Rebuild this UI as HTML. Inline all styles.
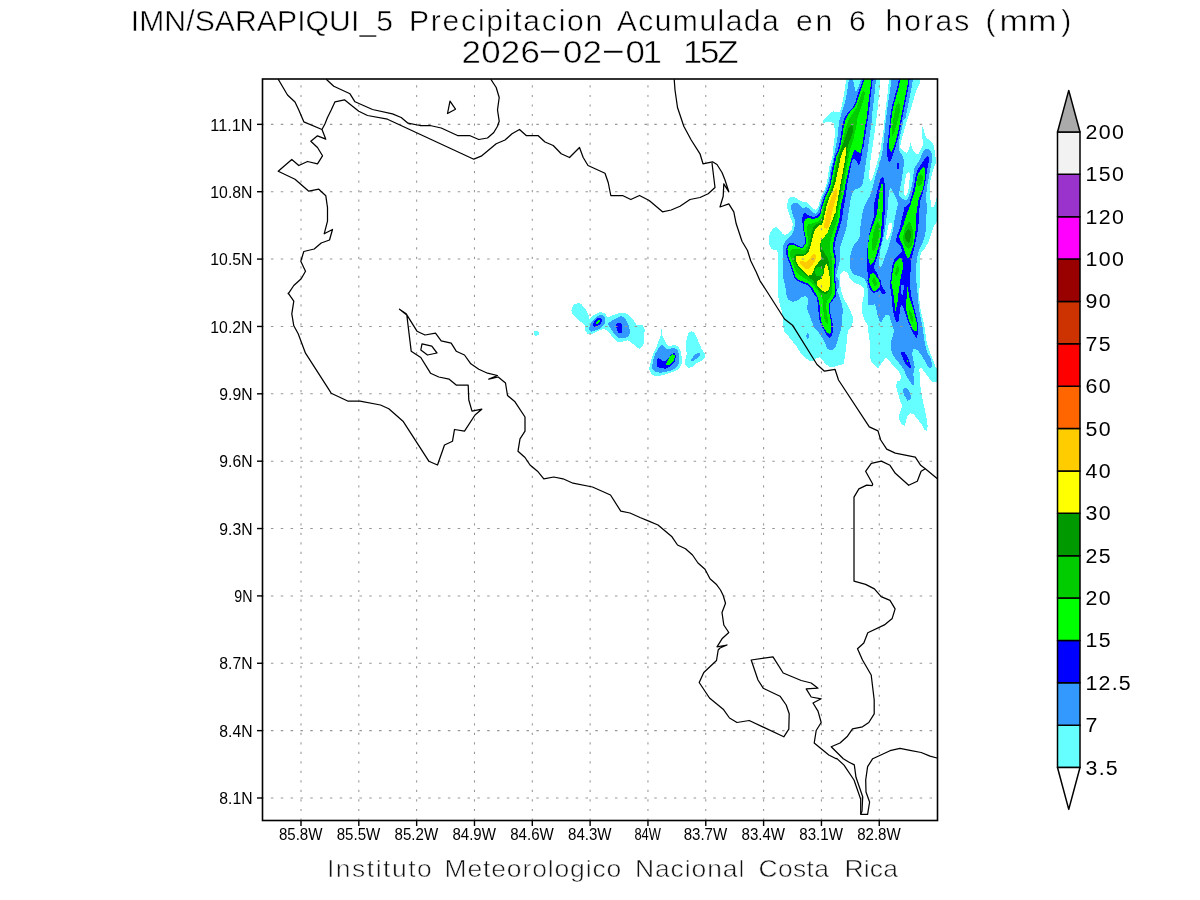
<!DOCTYPE html>
<html lang="es"><head><meta charset="utf-8"><title>IMN/SARAPIQUI_5 Precipitacion Acumulada en 6 horas (mm)</title>
<style>html,body{margin:0;padding:0;background:#fff}svg{display:block}text{font-family:"Liberation Sans",sans-serif;fill:#000}</style>
</head><body>
<svg width="1200" height="900" viewBox="0 0 1200 900">
<rect width="1200" height="900" fill="#fff"/>
<defs><clipPath id="fc"><rect x="262.5" y="79" width="675" height="741.5"/></clipPath></defs>
<g clip-path="url(#fc)" shape-rendering="crispEdges">
<polygon fill="#66ffff" points="846.5,79.0 845.0,87.0 844.0,95.0 842.0,105.0 840.0,111.5 837.0,112.2 833.0,111.2 830.0,113.5 826.5,117.0 823.2,120.5 823.2,123.0 826.5,122.0 830.0,121.5 833.5,123.0 834.5,128.0 834.8,135.0 834.0,143.0 832.5,151.0 832.5,156.0 831.0,162.0 829.0,168.0 828.0,176.0 826.5,184.0 824.5,190.0 822.0,195.0 820.0,200.0 818.5,206.0 816.0,210.0 813.5,209.0 810.0,205.5 807.0,202.5 803.0,202.0 799.0,200.0 795.0,197.5 791.0,197.0 788.5,199.0 787.2,204.0 787.5,209.0 789.0,214.0 791.0,219.0 793.0,224.0 792.0,229.0 789.0,233.0 785.5,235.0 782.5,234.0 780.0,230.0 776.5,227.0 773.5,228.0 770.5,232.0 769.0,236.0 769.0,238.0 769.2,244.0 771.0,248.5 774.0,250.0 777.0,250.5 778.5,255.0 778.2,263.0 778.0,271.0 777.5,279.0 778.0,287.0 778.5,290.0 778.2,296.0 779.5,303.0 781.5,310.0 783.0,318.0 783.0,326.0 784.5,332.0 789.0,337.0 793.0,342.0 797.0,347.0 800.0,352.0 804.0,357.0 809.0,360.5 814.0,361.0 816.5,358.0 820.0,357.2 822.5,360.0 826.0,364.5 830.0,367.0 835.0,366.5 840.0,365.0 843.5,364.0 844.5,359.0 845.5,352.0 846.5,344.0 847.0,336.0 848.5,330.0 851.0,327.0 852.8,322.0 852.5,316.0 850.0,310.0 847.5,305.0 844.5,300.0 842.0,294.0 840.5,287.0 839.5,280.0 840.5,274.0 844.0,271.0 847.5,273.0 850.0,279.0 854.0,283.0 860.0,285.0 863.5,288.0 864.0,294.0 863.0,300.0 862.0,305.0 862.0,307.0 862.5,314.0 864.5,320.0 867.5,325.0 868.5,333.0 869.5,340.0 870.0,348.0 870.0,357.0 872.0,363.0 876.0,367.0 878.5,368.0 882.7,361.7 886.0,357.0 888.7,360.3 893.3,365.7 898.7,371.0 901.3,376.3 900.0,380.3 896.7,381.7 896.3,387.0 898.0,393.7 900.0,400.3 902.0,405.7 900.7,410.7 899.3,414.7 899.3,420.0 901.3,424.0 904.7,425.6 906.0,421.3 907.3,416.0 910.0,413.3 913.3,414.0 917.3,418.7 921.3,424.0 924.7,430.0 926.7,430.7 927.7,426.7 926.7,418.7 924.7,409.3 922.7,400.0 921.3,392.0 920.0,384.0 920.0,376.3 919.3,369.7 921.3,367.7 926.7,375.0 932.0,381.7 938.0,381.7 938.0,370.3 935.5,367.0 933.5,361.0 931.0,355.0 928.5,348.0 926.5,341.0 925.5,334.0 924.5,327.0 923.0,320.0 921.0,312.0 919.8,304.0 919.0,296.0 919.5,288.0 920.0,280.0 919.5,280.0 920.5,272.0 920.0,265.0 919.5,258.0 921.0,253.0 925.0,248.0 928.5,242.0 931.0,234.0 934.0,226.0 938.0,220.0 938.0,197.5 936.7,197.7 935.7,201.7 934.0,206.7 931.3,206.7 930.7,201.7 930.0,195.0 929.7,188.3 930.0,181.7 931.3,176.3 933.0,170.3 934.3,167.0 935.7,163.0 935.7,159.0 935.3,155.0 935.0,152.0 933.5,145.0 931.0,141.0 927.0,138.5 925.0,135.0 924.0,130.0 922.5,127.0 921.5,131.0 922.0,136.0 923.0,142.0 922.5,146.0 920.5,150.0 918.0,154.5 915.0,153.0 912.0,148.0 910.5,142.5 909.0,149.0 907.0,153.0 903.0,151.0 900.0,148.0 901.5,140.0 903.5,133.0 905.5,126.0 907.0,120.0 909.0,115.0 911.5,107.0 914.0,98.0 916.5,90.0 920.0,83.5 920.5,79.0"/>
<polygon fill="#66ffff" points="571.3,311.0 573.3,305.0 578.0,303.0 581.3,304.1 586.0,309.7 588.7,315.0 589.1,319.0 594.0,315.0 600.0,312.1 604.7,313.0 608.0,317.7 613.3,315.0 619.3,313.0 625.3,313.0 629.3,315.7 634.0,321.0 636.7,325.0 642.7,325.4 644.7,329.7 644.0,339.0 643.3,345.7 640.0,348.7 636.7,347.7 632.7,343.7 628.0,340.3 622.7,341.7 617.3,341.9 614.0,339.0 610.0,333.7 606.0,329.9 602.7,329.0 596.7,331.7 592.0,334.3 588.0,334.3 585.3,331.0 585.3,326.3 581.3,322.3 576.0,317.7 572.7,314.3"/>
<polygon fill="#66ffff" points="661.6,328.1 662.0,335.0 665.3,341.7 668.0,346.3 674.7,345.0 678.7,347.0 681.3,352.3 682.0,363.0 678.7,369.0 672.0,372.3 664.0,375.0 655.3,376.3 651.3,374.3 649.1,369.0 650.7,361.7 653.3,353.7 656.7,346.3 659.3,339.0 661.1,335.0"/>
<polygon fill="#66ffff" points="691.3,331.0 694.0,332.3 697.3,339.0 701.3,348.3 704.7,353.7 704.7,357.7 701.3,361.0 696.0,363.7 692.0,367.0 688.7,367.7 685.3,365.0 685.3,360.3 686.7,353.7 686.0,345.7 686.7,337.7 688.7,333.0"/>
<polygon fill="#66ffff" points="534.5,331.0 537.5,330.5 538.8,332.0 538.5,335.0 536.0,336.0 534.0,335.0"/>
<polygon fill="#ffffff" points="880.0,79.0 879.5,90.0 878.5,100.0 877.5,110.0 876.2,120.0 875.0,130.0 873.5,140.0 872.0,150.0 870.5,160.0 869.5,170.0 869.2,178.0 870.5,181.2 871.2,180.8 872.5,178.0 874.5,172.0 876.5,165.0 878.5,158.0 880.5,150.0 882.0,140.0 883.5,130.0 884.5,120.0 885.5,110.0 886.8,100.0 888.0,90.0 889.0,79.0"/>
<polygon fill="#ffffff" points="909.0,171.0 910.0,174.0 909.5,180.0 909.0,186.0 908.0,192.0 907.0,195.0 905.5,195.5 903.5,194.0 904.0,188.0 905.0,180.0 906.5,174.0"/>
<polygon fill="#3399ff" points="849.0,79.0 847.8,87.0 846.5,95.0 845.0,103.0 843.0,109.0 841.0,115.0 839.5,120.0 838.5,127.0 837.8,135.0 836.5,143.0 835.0,151.0 834.0,156.0 832.5,163.0 830.5,170.0 829.5,177.0 828.0,184.0 826.0,190.0 823.5,195.0 821.5,200.0 820.0,206.0 818.0,211.0 815.5,214.0 812.0,212.0 809.0,208.5 806.0,207.0 803.0,208.0 800.0,206.0 797.0,203.0 794.0,202.5 791.5,204.5 791.2,209.0 792.5,214.0 794.5,219.0 795.0,225.0 794.0,230.0 792.0,234.0 789.0,237.5 785.5,241.0 783.5,245.0 782.5,250.0 782.8,257.0 783.0,265.0 782.5,273.0 783.5,279.0 785.0,285.0 786.0,291.0 786.5,295.0 788.5,300.0 793.0,302.0 798.0,300.0 802.0,297.0 805.0,296.0 808.0,299.0 808.0,303.0 807.0,308.0 809.0,314.0 811.5,321.0 814.5,328.0 819.0,333.0 823.0,339.0 825.5,344.0 827.0,348.5 830.0,350.5 833.0,349.5 836.0,346.0 838.0,339.0 840.0,333.0 841.5,326.0 842.0,318.0 843.0,310.0 841.5,303.0 839.5,297.0 838.0,293.0 836.5,290.0 839.0,288.0 838.5,280.0 836.0,276.0 837.0,272.0 838.5,266.0 840.0,260.0 839.5,254.0 840.5,246.0 843.0,238.0 846.0,230.0 847.5,220.0 849.0,210.0 850.5,200.0 852.0,194.0 854.0,190.0 856.5,189.0 860.0,188.0 862.5,184.0 864.0,176.0 865.0,168.0 866.2,160.0 867.8,150.0 869.0,140.0 870.5,130.0 872.0,120.0 871.8,117.0 873.0,107.0 874.2,97.0 875.2,87.0 876.0,79.0"/>
<polygon fill="#3399ff" points="891.5,79.0 890.5,87.0 889.0,97.0 887.5,107.0 886.2,117.0 884.8,130.0 883.8,140.0 882.8,150.0 881.0,158.0 879.0,165.0 877.0,172.0 875.0,178.0 873.5,184.0 872.0,190.0 870.0,196.0 867.0,201.0 864.5,206.0 864.5,206.0 862.5,213.0 861.0,222.0 860.0,230.0 860.5,235.0 858.0,240.0 854.5,244.0 852.0,249.0 850.5,255.0 849.5,262.0 850.0,268.0 852.5,273.0 855.0,275.0 860.0,276.5 864.5,279.0 866.5,283.0 868.0,290.0 868.0,293.0 867.5,300.0 868.5,305.0 872.0,305.5 875.0,303.5 876.2,309.0 877.5,315.0 879.5,321.0 881.5,322.5 883.5,318.0 886.0,314.5 889.0,314.5 890.5,320.0 892.5,326.0 894.0,331.0 892.5,337.0 890.5,343.0 891.0,349.0 892.5,354.0 895.5,359.0 899.0,363.0 902.0,367.0 904.0,370.0 906.7,376.3 910.0,381.7 913.3,386.3 914.0,380.3 913.3,373.7 914.7,367.0 913.3,360.3 912.0,353.7 913.3,349.0 917.3,349.7 921.3,355.0 925.3,361.7 928.7,367.7 931.3,368.3 932.0,364.3 930.0,356.3 928.0,355.0 926.0,348.0 924.5,341.0 923.5,334.0 922.5,327.0 921.0,320.0 919.5,312.0 918.5,304.0 917.8,296.0 917.0,288.0 916.2,280.0 916.5,282.0 915.8,274.0 916.2,266.0 917.0,259.0 918.0,253.0 920.0,248.0 922.5,243.0 924.5,237.0 925.8,230.0 926.0,222.0 926.5,214.0 927.0,206.0 926.0,200.0 926.5,192.0 927.5,184.0 929.0,176.0 930.5,168.0 932.0,160.0 931.8,154.0 930.0,150.0 927.0,148.5 924.0,150.0 922.0,154.0 919.5,160.0 917.0,164.0 914.5,168.0 913.5,174.0 912.5,182.0 911.0,190.0 909.0,196.0 908.0,199.0 905.0,200.0 902.0,199.0 900.0,197.0 899.0,194.0 900.0,188.0 901.5,181.0 902.5,174.0 903.5,167.0 904.0,160.0 902.0,155.0 899.0,150.0 898.5,144.0 900.0,136.0 902.0,128.0 903.5,120.0 905.5,118.0 907.5,108.0 909.5,98.0 911.5,88.0 913.0,79.0"/>
<polygon fill="#3399ff" points="807.5,332.6 809.4,335.5 807.9,339.2 805.8,336.2"/>
<polygon fill="#3399ff" points="903.3,388.7 906.0,388.0 909.3,391.3 910.9,396.0 910.4,400.0 907.3,400.7 904.7,396.0 902.9,392.0"/>
<polygon fill="#3399ff" points="589.3,327.0 592.0,321.0 597.3,316.3 602.0,314.3 605.3,317.7 605.3,323.0 601.3,327.7 596.0,330.3 591.3,331.7 589.3,329.7"/>
<polygon fill="#3399ff" points="607.3,323.7 613.3,319.7 620.7,316.1 625.3,318.3 628.7,325.0 630.0,331.0 629.3,335.7 624.0,338.3 618.7,337.7 614.0,333.7 610.7,328.3"/>
<polygon fill="#3399ff" points="662.0,345.0 666.7,349.7 673.3,347.7 677.3,349.7 679.3,355.0 679.3,363.0 676.0,368.3 669.3,371.0 661.3,372.6 655.3,372.3 652.0,369.0 652.7,361.7 655.3,353.7 658.7,347.7"/>
<polygon fill="#3399ff" points="690.0,360.3 696.0,353.7 699.7,353.0 699.7,355.7 696.0,359.0 692.7,361.0"/>
<polygon fill="#66ffff" points="853.0,79.0 861.0,79.0 858.5,87.0 856.0,92.5 854.5,87.0"/>
<polygon fill="#66ffff" points="890.0,188.0 889.5,190.0 889.0,196.0 887.5,200.0 888.0,206.0 887.0,214.0 886.0,222.0 884.8,230.0 883.5,237.0 882.0,243.0 880.5,249.0 879.5,256.0 879.0,262.0 879.5,266.0 881.0,267.0 882.0,265.0 883.5,261.0 886.0,254.0 888.5,247.0 890.5,240.0 892.5,232.0 894.0,224.0 895.0,217.0 896.5,210.0 898.0,204.0 897.2,200.0 895.0,196.0 892.0,190.0"/>
<polygon fill="#ffffff" points="890.0,222.2 892.0,223.5 891.8,228.0 890.5,233.0 889.0,237.5 887.5,240.0 886.2,238.5 886.5,235.0 887.5,230.0 888.5,225.0"/>
<polygon fill="#0000ff" points="863.2,79.0 860.0,88.0 857.5,95.0 855.5,102.0 853.0,107.0 849.0,111.0 845.5,116.0 843.5,121.0 842.0,127.0 841.0,135.0 839.5,143.0 837.5,151.0 835.0,156.0 833.5,163.0 831.8,170.0 830.8,177.0 829.5,184.0 827.5,190.0 825.0,195.0 823.0,200.0 821.2,206.0 820.0,212.0 817.5,215.5 813.0,217.0 808.0,215.0 805.0,213.0 802.8,215.0 802.0,220.0 803.0,225.0 803.5,231.0 804.8,237.0 804.5,244.0 802.0,247.5 798.0,245.5 794.0,243.5 790.0,243.0 787.2,245.0 786.2,249.0 786.5,255.0 788.5,261.0 791.0,267.0 792.5,272.0 794.0,277.0 797.5,281.0 802.0,283.0 807.0,285.0 811.0,289.0 814.0,294.0 817.0,298.0 818.0,305.0 818.5,312.0 819.5,320.0 821.5,326.0 824.5,331.0 827.0,335.5 829.5,337.5 831.5,336.0 833.0,332.0 833.0,326.0 832.0,320.0 830.5,314.0 829.5,308.0 830.5,303.0 833.0,300.0 835.5,297.0 836.0,293.0 835.5,290.0 836.8,291.0 835.8,283.0 834.8,275.0 835.5,268.0 836.5,261.0 835.5,255.0 834.2,249.0 835.2,242.0 837.0,235.0 839.5,228.0 841.5,221.0 842.5,215.0 842.6,213.0 844.0,206.0 845.0,200.0 846.0,194.0 847.0,187.0 848.0,180.0 849.5,173.0 851.0,166.0 852.0,160.0 854.0,158.0 856.5,161.0 858.5,165.0 860.0,163.0 861.5,156.0 862.0,150.0 863.5,147.0 865.0,137.0 866.5,127.0 868.2,117.0 869.5,107.0 870.5,97.0 871.8,87.0 872.7,79.0"/>
<polygon fill="#0000ff" points="899.0,79.0 897.0,88.0 894.5,97.0 892.0,106.0 890.5,115.0 889.5,125.0 888.5,135.0 887.2,145.0 887.0,153.0 887.8,160.0 889.0,162.0 890.5,161.0 893.0,155.0 895.5,147.0 898.0,138.0 900.3,128.0 902.3,118.0 904.3,108.0 906.3,98.0 908.3,88.0 909.7,79.0"/>
<polygon fill="#0000ff" points="897.2,163.2 899.0,162.8 899.2,167.0 898.5,169.0 897.2,168.8"/>
<polygon fill="#0000ff" points="882.0,177.0 880.0,180.0 878.0,188.0 876.0,196.0 874.0,204.0 874.0,206.0 874.5,214.0 873.0,220.0 871.0,226.0 869.5,233.0 868.5,240.0 867.5,248.0 867.0,256.0 866.8,264.0 867.5,272.0 868.5,280.0 867.2,280.0 868.5,285.0 870.5,290.0 873.5,293.0 877.0,292.0 879.5,290.0 882.0,293.5 884.5,294.0 886.0,292.5 883.5,289.0 881.5,285.0 880.5,280.0 879.0,279.0 877.5,274.0 875.0,270.0 873.8,266.5 875.8,261.0 878.3,254.0 880.3,247.0 882.0,240.0 883.2,232.0 884.0,223.0 884.6,214.0 885.0,206.0 884.8,200.0 885.0,195.0 884.8,185.0 884.0,179.0"/>
<polygon fill="#0000ff" points="927.0,156.0 924.5,159.0 921.5,164.0 918.0,169.0 916.0,174.0 915.0,180.0 913.5,188.0 911.5,196.0 909.5,203.0 906.0,207.0 904.5,207.0 903.5,212.0 902.0,218.0 900.5,225.0 899.0,231.0 896.8,236.0 896.2,241.0 898.0,244.0 901.0,247.0 902.0,251.0 900.0,253.0 897.0,256.0 894.0,260.0 892.5,265.0 891.5,272.0 890.5,280.0 890.0,286.0 889.5,280.0 890.0,286.0 891.2,293.0 892.0,300.0 892.5,307.0 893.5,313.0 895.0,319.0 897.2,323.0 899.0,320.0 899.5,314.0 900.0,308.0 901.5,305.0 903.0,307.0 905.0,312.0 907.0,318.0 909.0,324.0 911.0,329.0 913.5,334.0 916.5,338.0 917.8,334.0 918.0,328.0 917.5,322.0 916.0,315.0 914.5,309.0 913.0,303.0 911.5,297.0 910.5,290.0 910.0,280.0 910.0,280.0 910.5,272.0 910.8,265.0 911.5,259.0 913.0,253.0 914.5,247.0 916.0,240.0 917.5,232.0 918.5,224.0 919.0,216.0 919.5,208.0 920.0,200.0 920.5,200.0 922.5,194.0 924.5,186.0 926.0,178.0 927.0,170.0 928.5,163.0 929.0,158.0"/>
<polygon fill="#0000ff" points="901.5,352.0 904.5,352.5 907.0,356.0 909.0,360.0 910.5,365.0 910.8,368.0 908.5,367.5 906.0,365.0 904.0,361.0 902.5,357.0 901.0,353.5"/>
<polygon fill="#0000ff" points="592.7,324.3 594.7,320.3 598.7,317.7 601.3,318.3 602.0,321.7 599.3,325.0 595.3,327.0 593.3,326.3"/>
<polygon fill="#0000ff" points="616.0,323.7 621.3,322.7 622.0,328.3 621.6,333.0 618.7,333.0 616.7,329.7"/>
<polygon fill="#0000ff" points="658.0,357.7 662.7,361.0 666.7,360.3 670.7,355.0 674.0,352.3 675.7,355.0 675.3,361.7 670.7,366.3 665.3,368.6 660.0,368.3 657.1,366.3 657.1,361.0"/>
<polygon fill="#3399ff" points="901.5,284.5 903.5,285.0 903.5,290.0 902.5,295.0 901.0,294.0 900.5,289.0"/>
<polygon fill="#00ff00" points="864.5,79.0 861.5,88.0 859.0,95.0 856.8,102.0 854.5,107.0 850.5,111.5 847.0,116.5 845.0,121.5 843.5,127.5 842.5,135.0 841.0,143.0 839.0,151.0 836.5,156.0 835.0,163.0 833.5,170.0 832.2,177.0 830.8,184.0 829.0,190.0 826.5,195.0 824.5,200.0 822.5,206.0 821.2,213.0 819.0,217.0 814.0,219.0 808.0,218.0 805.2,219.0 803.5,225.0 804.5,232.0 805.8,238.0 805.5,244.0 802.5,248.5 798.0,247.0 794.0,245.0 790.5,244.5 788.5,246.0 787.5,249.5 787.8,255.0 789.5,260.0 792.0,266.0 793.5,271.0 795.0,276.0 798.0,279.5 802.5,281.5 807.5,283.5 812.0,287.5 815.0,292.5 818.0,297.5 819.5,305.0 820.0,312.0 820.8,320.0 822.5,325.0 825.0,329.5 827.5,333.0 829.5,334.0 831.0,332.0 831.5,327.0 830.8,320.0 829.5,314.0 828.5,308.0 829.5,303.0 832.0,299.5 834.2,296.5 834.8,293.0 834.5,290.0 835.5,291.0 834.5,283.0 833.5,275.0 834.0,268.0 835.0,261.0 834.0,255.0 832.5,249.0 833.5,242.0 835.0,235.0 837.0,228.0 839.0,221.0 840.0,215.0 839.7,213.0 841.0,206.0 842.2,200.0 843.5,195.0 844.5,190.0 845.5,184.0 847.0,177.0 848.5,170.0 850.0,164.0 851.5,158.0 853.0,153.0 854.8,149.0 858.0,152.0 860.5,153.0 862.0,147.0 863.5,137.0 865.0,127.0 866.8,117.0 868.0,107.0 869.0,97.0 870.5,87.0 871.5,79.0"/>
<polygon fill="#00ff00" points="900.5,79.0 898.5,88.0 896.0,97.0 893.5,106.0 891.8,115.0 890.8,125.0 889.8,135.0 889.0,144.0 889.5,149.0 891.5,152.0 894.0,147.0 896.5,138.0 899.0,128.0 901.0,118.0 903.0,108.0 905.0,98.0 907.0,88.0 908.5,79.0"/>
<polygon fill="#00ff00" points="882.2,182.0 880.5,188.0 879.0,196.0 877.8,204.0 877.8,206.0 877.0,214.0 875.0,220.0 872.2,227.0 869.7,234.0 868.6,241.0 867.9,249.0 868.0,256.0 868.8,261.0 870.5,265.0 874.0,261.0 876.5,254.0 878.5,247.0 880.3,240.0 881.2,232.0 881.6,224.0 882.2,216.0 882.8,208.0 882.5,200.0 882.2,204.0 882.8,196.0 883.0,188.0"/>
<polygon fill="#00ff00" points="873.0,273.0 870.5,274.5 869.2,279.0 868.5,280.0 870.0,285.0 872.0,289.5 874.0,291.5 877.0,290.0 879.0,287.5 880.0,284.0 879.0,280.0 877.0,278.0 875.5,274.5"/>
<polygon fill="#00ff00" points="924.0,166.0 921.5,169.0 918.5,173.0 917.0,178.0 916.0,184.0 915.0,190.0 913.0,197.0 911.0,203.0 910.5,205.0 908.0,211.0 905.5,218.0 903.5,225.0 901.0,231.0 899.0,236.0 900.0,240.0 902.5,245.0 904.5,251.0 906.5,256.0 908.0,258.5 910.0,256.0 912.0,250.0 914.0,243.0 915.0,236.0 915.8,228.0 916.0,220.0 916.5,213.0 917.5,206.0 918.5,200.0 920.0,196.0 922.5,190.0 924.0,184.0 925.0,176.0 925.0,169.0"/>
<polygon fill="#00ff00" points="900.0,258.0 897.0,260.0 894.5,264.0 893.0,270.0 892.0,277.0 891.2,284.0 890.8,280.0 892.0,286.0 893.2,293.0 894.2,300.0 895.0,307.0 895.5,311.0 896.8,306.0 897.8,300.0 898.5,293.0 899.5,286.0 900.0,280.0 900.0,282.0 901.0,276.0 902.5,270.0 903.0,264.0 902.0,260.0"/>
<polygon fill="#00ff00" points="907.5,287.0 907.0,293.0 906.5,299.0 905.5,305.0 906.5,311.0 908.0,317.0 910.0,323.0 912.0,328.0 914.5,331.0 916.5,331.0 917.0,328.0 916.5,322.0 915.0,316.0 913.5,310.0 911.5,304.0 909.5,298.0 908.5,292.0"/>
<polygon fill="#00ff00" points="907.0,360.0 908.0,360.5 908.0,362.0 907.0,361.8"/>
<polygon fill="#00ff00" points="596.0,322.3 598.0,320.1 600.0,320.1 599.7,322.3 597.3,324.1 596.0,323.7"/>
<polygon fill="#00ff00" points="666.7,362.3 669.3,357.0 672.7,354.3 674.7,355.0 674.4,359.7 671.3,363.7 668.0,365.7 666.3,364.6"/>
<polygon fill="#00cc00" points="864.0,90.0 861.5,94.0 859.0,101.0 856.5,108.0 853.0,113.0 849.5,118.0 847.0,124.0 845.0,131.0 843.5,137.0 842.0,144.0 840.0,151.0 837.5,156.0 836.2,163.0 834.8,170.0 833.5,177.0 832.0,184.0 830.2,190.0 828.0,195.0 826.0,200.0 824.0,206.0 822.5,213.0 821.0,219.0 817.0,222.0 812.0,223.5 808.0,224.5 806.8,228.0 807.0,234.0 808.5,239.0 808.0,245.0 805.0,250.0 801.0,249.5 796.0,248.5 792.0,249.0 790.0,252.0 790.5,257.0 793.0,263.0 795.0,269.0 797.0,273.0 801.0,276.0 806.0,279.0 811.0,282.0 815.0,287.0 818.0,291.0 820.0,294.0 822.5,298.5 823.0,305.0 823.5,312.0 824.5,319.0 826.0,323.0 827.5,323.5 828.0,320.0 827.0,314.0 826.2,308.0 826.5,303.0 827.5,300.0 830.0,297.0 831.5,294.0 832.0,290.0 832.2,289.0 832.5,284.0 831.5,277.0 831.5,270.0 832.5,263.0 832.0,257.0 830.0,251.0 829.5,245.0 831.0,239.0 833.0,233.0 835.0,227.0 837.0,221.0 838.0,215.0 838.0,213.0 839.3,206.0 840.4,200.0 841.5,195.0 842.5,190.0 843.5,184.0 844.8,177.0 846.2,170.0 847.5,163.0 848.8,156.0 850.0,150.0 851.5,145.0 853.5,139.0 855.0,132.0 856.5,125.0 857.5,118.0 859.5,112.0 862.0,105.0 864.0,98.0 864.8,93.0"/>
<polygon fill="#00cc00" points="898.5,102.0 900.5,105.0 900.0,111.0 898.5,118.0 896.5,125.0 894.5,132.0 892.5,136.5 891.5,135.0 892.0,129.0 893.0,121.0 894.5,113.0 896.0,106.0"/>
<polygon fill="#00cc00" points="878.0,221.5 879.7,225.0 879.7,231.0 878.7,238.0 876.8,244.0 875.0,249.0 873.5,251.0 872.0,249.5 871.8,244.0 872.5,238.0 873.5,232.0 875.5,226.0"/>
<polygon fill="#00cc00" points="874.0,277.5 876.0,280.5 877.0,284.0 876.2,285.0 875.0,286.2 873.2,284.0 872.2,280.5"/>
<polygon fill="#00cc00" points="909.0,221.5 911.0,224.0 913.0,230.0 913.5,236.0 913.0,242.0 911.5,246.0 909.0,249.0 906.0,247.0 904.0,243.0 903.0,238.0 904.0,232.0 906.0,226.0"/>
<polygon fill="#00cc00" points="920.5,174.0 922.5,175.5 923.0,179.0 921.5,184.0 919.0,186.5 917.2,185.0 917.0,180.0 918.5,176.0"/>
<polygon fill="#00cc00" points="898.0,265.0 899.0,268.0 898.5,272.0 897.0,275.5 896.0,276.0 895.2,274.0 896.0,269.0"/>
<polygon fill="#00cc00" points="909.5,310.0 911.5,313.0 913.0,318.0 913.5,322.0 912.0,322.0 910.5,319.0 909.2,314.0"/>
<polygon fill="#009900" points="852.0,124.5 849.0,127.0 847.0,133.0 845.0,139.0 842.5,145.0 840.5,151.0 838.7,156.0 837.3,163.0 835.8,170.0 834.5,177.0 833.0,184.0 831.2,190.0 829.0,195.0 827.0,200.0 825.0,206.0 823.5,213.0 822.0,219.0 820.5,223.0 816.0,224.0 813.0,228.0 811.5,233.0 810.5,239.0 809.5,245.0 807.5,250.0 805.0,253.5 800.0,254.0 796.0,254.5 794.0,257.0 794.5,261.0 797.0,266.0 800.0,270.0 804.0,274.0 808.5,277.0 812.5,280.0 815.5,284.0 818.0,289.0 821.0,292.5 826.0,294.0 829.0,292.0 830.5,287.0 830.8,280.0 830.0,273.0 829.5,267.0 829.0,262.0 827.0,257.0 824.5,253.0 822.0,249.0 820.5,244.0 822.0,239.0 826.0,235.0 829.0,230.0 831.5,224.0 834.2,219.0 835.3,215.0 836.6,213.0 837.8,206.0 839.0,200.0 840.0,195.0 841.0,190.0 841.8,184.0 843.2,177.0 844.5,170.0 846.0,163.0 847.0,156.0 848.0,150.0 847.0,151.0 848.0,145.0 850.5,139.0 852.5,133.0 853.0,127.0"/>
<polygon fill="#009900" points="908.5,228.5 910.5,231.0 911.0,236.0 910.0,241.0 908.0,243.0 906.0,241.0 905.0,236.0 906.0,231.0"/>
<polygon fill="#00cc00" points="816.5,267.5 820.0,266.5 822.5,269.0 822.5,273.5 820.0,276.0 816.5,275.5 814.5,273.0 814.8,269.5"/>
<polygon fill="#ffff00" points="845.8,146.0 843.5,150.0 841.0,156.0 839.5,163.0 838.0,170.0 836.5,177.0 835.0,184.0 833.0,190.0 830.5,195.0 828.5,200.0 826.5,206.0 825.0,213.0 823.5,220.0 822.0,225.0 820.0,225.0 815.5,229.0 813.5,234.0 812.0,240.0 810.5,246.0 809.0,251.0 806.0,255.0 802.0,256.0 798.0,255.5 795.5,257.0 795.5,260.5 798.0,265.0 801.0,269.0 805.0,273.0 808.5,275.5 811.5,275.0 813.5,271.0 815.0,267.0 818.0,263.0 821.0,259.0 821.5,255.0 820.0,250.0 820.0,244.0 821.5,240.0 825.0,236.0 828.0,232.0 830.0,226.0 832.5,220.0 834.0,215.0 835.5,213.0 836.5,206.0 837.8,200.0 838.5,195.0 839.5,190.0 840.5,184.0 842.0,177.0 843.2,170.0 844.5,163.0 845.5,156.0 846.2,150.0 846.0,151.0"/>
<polygon fill="#ffff00" points="826.0,264.0 824.5,268.0 823.5,274.0 821.5,279.0 818.0,280.5 816.5,283.0 818.0,287.0 821.5,290.5 825.5,292.0 828.5,290.0 830.0,285.0 830.0,279.0 829.0,273.0 828.0,267.0 827.0,264.5"/>
<polygon fill="#ffcc00" points="836.8,187.0 837.2,192.0 836.5,197.0 834.5,203.0 833.0,209.0 831.5,215.0 830.0,222.0 828.5,227.0 826.5,228.5 824.5,228.0 824.0,225.0 825.5,218.0 827.0,211.0 829.0,204.0 831.5,197.0 834.5,191.0"/>
<polygon fill="#ffcc00" points="799.5,261.0 802.0,260.5 806.0,262.5 810.0,259.0 812.5,254.5 815.0,253.5 816.0,257.0 814.5,262.0 811.5,266.0 808.5,269.0 805.5,269.0 802.0,266.0 799.5,263.0"/>
</g>
<g stroke="#969696" stroke-width="1.05" fill="none">
<line x1="301.00" y1="820.6" x2="301.00" y2="79.0" stroke-dasharray="2.2 7.32"/>
<line x1="358.82" y1="820.6" x2="358.82" y2="79.0" stroke-dasharray="2.2 7.32"/>
<line x1="416.65" y1="820.6" x2="416.65" y2="79.0" stroke-dasharray="2.2 7.32"/>
<line x1="474.48" y1="820.6" x2="474.48" y2="79.0" stroke-dasharray="2.2 7.32"/>
<line x1="532.30" y1="820.6" x2="532.30" y2="79.0" stroke-dasharray="2.2 7.32"/>
<line x1="590.12" y1="820.6" x2="590.12" y2="79.0" stroke-dasharray="2.2 7.32"/>
<line x1="647.95" y1="820.6" x2="647.95" y2="79.0" stroke-dasharray="2.2 7.32"/>
<line x1="705.77" y1="820.6" x2="705.77" y2="79.0" stroke-dasharray="2.2 7.32"/>
<line x1="763.60" y1="820.6" x2="763.60" y2="79.0" stroke-dasharray="2.2 7.32"/>
<line x1="821.43" y1="820.6" x2="821.43" y2="79.0" stroke-dasharray="2.2 7.32"/>
<line x1="879.25" y1="820.6" x2="879.25" y2="79.0" stroke-dasharray="2.2 7.32"/>
<line x1="261.1" y1="124.35" x2="937.5" y2="124.35" stroke-dasharray="2.5 7.33"/>
<line x1="261.1" y1="191.72" x2="937.5" y2="191.72" stroke-dasharray="2.5 7.33"/>
<line x1="261.1" y1="259.08" x2="937.5" y2="259.08" stroke-dasharray="2.5 7.33"/>
<line x1="261.1" y1="326.45" x2="937.5" y2="326.45" stroke-dasharray="2.5 7.33"/>
<line x1="261.1" y1="393.81" x2="937.5" y2="393.81" stroke-dasharray="2.5 7.33"/>
<line x1="261.1" y1="461.18" x2="937.5" y2="461.18" stroke-dasharray="2.5 7.33"/>
<line x1="261.1" y1="528.54" x2="937.5" y2="528.54" stroke-dasharray="2.5 7.33"/>
<line x1="261.1" y1="595.90" x2="937.5" y2="595.90" stroke-dasharray="2.5 7.33"/>
<line x1="261.1" y1="663.27" x2="937.5" y2="663.27" stroke-dasharray="2.5 7.33"/>
<line x1="261.1" y1="730.63" x2="937.5" y2="730.63" stroke-dasharray="2.5 7.33"/>
<line x1="261.1" y1="798.00" x2="937.5" y2="798.00" stroke-dasharray="2.5 7.33"/>
</g>
<g clip-path="url(#fc)" stroke="#000" stroke-width="1.25" fill="none" stroke-linejoin="round">
<polyline points="278.2,79.2 287.5,95.0 295.0,102.0 298.8,110.0 303.8,121.8 322.0,129.5 325.8,139.2 317.5,135.8 310.8,141.2 317.5,147.5 322.5,155.8 317.5,163.8 307.5,161.5 298.8,165.5 291.8,159.5 278.2,171.2 295.0,179.2 308.8,191.2 318.8,189.2 325.8,195.8 327.5,207.5 327.5,221.2 324.2,233.8 332.5,229.5 329.5,240.0 321.2,243.0 314.2,249.0 303.8,251.5 300.8,261.2 305.5,271.2 301.2,278.8 293.8,285.5 288.2,293.8 288.2,293.2 293.8,301.2 291.8,313.8 293.8,325.8 298.2,333.8 305.5,353.2 331.2,393.2 348.2,401.2 360.0,401.2 380.5,405.0 388.8,408.8 403.0,421.2 428.8,461.2 437.5,465.0 444.5,445.0 452.5,441.2 454.5,429.5 464.5,431.2 475.0,415.0 481.8,409.2 472.0,411.2 468.8,400.0 468.2,385.0 456.2,385.0 449.2,379.2 438.8,377.0 430.5,373.2 420.8,357.5 411.2,351.2 406.8,315.0 399.5,309.2 406.2,313.8 417.0,331.2 425.0,335.0 435.5,333.2 441.2,340.8 451.2,343.2 456.2,351.2 464.5,355.0 470.8,363.8 478.8,369.2 487.5,373.2 497.5,375.5 488.8,379.2 498.2,377.0 505.5,383.0 507.5,395.5 515.0,401.8 525.0,417.0 525.0,431.2 520.0,438.8 518.0,451.2 525.0,457.5 530.0,465.0 537.5,471.2 543.8,478.8 553.8,477.0 563.0,478.8 573.0,483.2 592.5,487.0 610.5,495.0 620.8,511.2 630.0,513.0 640.0,517.5 648.8,521.2 658.0,525.0 672.0,536.8 677.5,545.0 685.5,548.8 692.5,555.0 698.0,563.0 705.0,569.2 710.0,578.8 716.2,584.2 720.5,590.0 723.2,595.5 725.5,603.2 722.0,612.5 723.8,625.0 728.8,632.5 722.0,638.8 717.0,646.8 727.0,645.0 720.0,648.0 718.2,650.0 716.5,660.5 703.8,672.5 699.2,682.5 709.5,698.0 723.2,709.2 729.5,718.0 737.0,722.5 749.2,720.5 783.8,736.8 788.8,729.2 789.2,713.8 786.2,705.0 780.0,696.2 763.2,688.2 758.0,680.0 751.2,660.0 773.0,656.8 783.2,673.0 801.2,680.5 811.2,683.0 818.0,688.2 806.2,688.8 811.2,697.0 821.2,698.8 813.0,703.0 818.0,711.2 821.2,722.5 816.2,730.5 814.2,743.0 828.8,755.0 836.2,758.8 836.7,758.4 844.0,765.1 854.0,780.0 860.7,799.3 860.7,814.3 867.6,814.3 869.6,802.0 866.0,792.0 865.7,780.0 867.6,766.7 872.7,758.7 890.0,750.7 900.0,748.3 910.0,750.4 921.2,752.5 930.0,756.2 937.0,758.0 940.0,758.5"/>
<polyline points="322.0,129.5 325.0,123.8 327.5,117.5 331.2,110.0 335.0,101.8 344.5,99.8 350.0,104.2 358.8,111.2 367.5,115.5 387.5,119.2 473.8,159.2 481.2,156.2 496.2,143.8 505.0,140.0 512.0,133.8 519.5,129.5 526.2,135.5 538.0,135.5 545.0,142.0 553.2,145.5 561.2,153.8 569.5,157.5 579.5,147.5 583.2,157.5 588.0,165.5 605.0,173.2 608.2,182.5 610.8,195.5 622.5,195.5 630.8,199.5 639.5,195.5 649.2,200.5 662.5,211.8 671.2,210.0 680.0,206.2 690.0,199.5 700.0,197.5 708.2,193.8 715.0,187.5 712.0,163.0"/>
<polyline points="326.2,79.2 333.8,86.2 350.0,93.8 355.0,101.8 372.5,109.5 392.5,113.8 401.2,117.5 408.0,123.2 420.0,125.5 430.0,125.5 441.2,128.0 457.5,135.5 469.5,135.5 478.8,139.5 487.5,138.0 493.8,132.5 497.5,126.2 499.2,121.2 497.5,110.0 499.2,97.5 496.2,87.5 490.8,79.2"/>
<polygon points="450.0,101.2 455.5,109.2 447.5,113.5"/>
<polygon points="422.0,343.8 431.8,346.2 437.0,353.0 427.5,355.0 420.8,350.0"/>
<polyline points="674.2,79.2 675.0,90.0 677.5,107.5 683.8,126.2 691.2,140.0 700.0,153.8 703.0,163.8 712.5,161.8 717.0,164.5 722.0,172.5 725.0,180.0 728.8,191.8 723.8,183.8 723.2,196.2 720.0,207.0 728.8,203.8 733.8,211.8 736.2,223.8 742.0,241.2 747.5,250.5 750.8,261.0 756.2,272.0 760.0,280.8 766.0,290.0 784.5,319.0 792.5,325.2 817.0,364.5 824.5,371.2 835.0,369.3 838.5,380.0 869.3,426.9 878.0,430.9 880.7,440.0 886.7,449.1 895.3,453.1 915.3,457.1 920.7,465.3 925.3,468.7 937.1,478.4 940.0,480.8"/>
<polyline points="925.3,468.7 921.1,471.3 917.3,481.3 908.7,485.3 895.3,473.3 890.0,465.3 881.3,461.1 871.3,463.3 865.6,471.3 872.7,484.0 872.2,485.6 866.7,485.1 858.9,488.9 854.0,497.1 854.0,581.1 865.6,584.4 874.4,588.9 881.1,596.7 890.0,600.4 895.1,608.9 892.2,618.4 884.4,624.9 867.8,632.7 863.8,643.0 857.5,648.8 862.5,660.0 871.2,675.0 874.2,700.0 874.2,713.8 868.8,722.5 862.5,726.8 852.5,728.8 847.5,736.2 840.0,743.0 831.2,746.8 843.3,758.7 848.7,762.0 854.3,764.9 856.0,777.3 862.7,796.7 862.0,811.3 860.7,814.3"/>
</g>
<rect x="262.5" y="79" width="675" height="741.5" fill="none" stroke="#000" stroke-width="1.6"/>
<g stroke="#000" stroke-width="1.4">
<line x1="301.00" y1="820.5" x2="301.00" y2="826.0"/>
<line x1="358.82" y1="820.5" x2="358.82" y2="826.0"/>
<line x1="416.65" y1="820.5" x2="416.65" y2="826.0"/>
<line x1="474.48" y1="820.5" x2="474.48" y2="826.0"/>
<line x1="532.30" y1="820.5" x2="532.30" y2="826.0"/>
<line x1="590.12" y1="820.5" x2="590.12" y2="826.0"/>
<line x1="647.95" y1="820.5" x2="647.95" y2="826.0"/>
<line x1="705.77" y1="820.5" x2="705.77" y2="826.0"/>
<line x1="763.60" y1="820.5" x2="763.60" y2="826.0"/>
<line x1="821.43" y1="820.5" x2="821.43" y2="826.0"/>
<line x1="879.25" y1="820.5" x2="879.25" y2="826.0"/>
<line x1="257.0" y1="124.35" x2="262.5" y2="124.35"/>
<line x1="257.0" y1="191.72" x2="262.5" y2="191.72"/>
<line x1="257.0" y1="259.08" x2="262.5" y2="259.08"/>
<line x1="257.0" y1="326.45" x2="262.5" y2="326.45"/>
<line x1="257.0" y1="393.81" x2="262.5" y2="393.81"/>
<line x1="257.0" y1="461.18" x2="262.5" y2="461.18"/>
<line x1="257.0" y1="528.54" x2="262.5" y2="528.54"/>
<line x1="257.0" y1="595.90" x2="262.5" y2="595.90"/>
<line x1="257.0" y1="663.27" x2="262.5" y2="663.27"/>
<line x1="257.0" y1="730.63" x2="262.5" y2="730.63"/>
<line x1="257.0" y1="798.00" x2="262.5" y2="798.00"/>
</g>
<g font-size="16.8px">
<text x="300.70" y="840.4" text-anchor="middle" textLength="43.6" lengthAdjust="spacingAndGlyphs">85.8W</text>
<text x="358.52" y="840.4" text-anchor="middle" textLength="43.6" lengthAdjust="spacingAndGlyphs">85.5W</text>
<text x="416.35" y="840.4" text-anchor="middle" textLength="43.6" lengthAdjust="spacingAndGlyphs">85.2W</text>
<text x="474.18" y="840.4" text-anchor="middle" textLength="43.6" lengthAdjust="spacingAndGlyphs">84.9W</text>
<text x="532.00" y="840.4" text-anchor="middle" textLength="43.6" lengthAdjust="spacingAndGlyphs">84.6W</text>
<text x="589.83" y="840.4" text-anchor="middle" textLength="43.6" lengthAdjust="spacingAndGlyphs">84.3W</text>
<text x="647.65" y="840.4" text-anchor="middle" textLength="26.5" lengthAdjust="spacingAndGlyphs">84W</text>
<text x="705.47" y="840.4" text-anchor="middle" textLength="43.6" lengthAdjust="spacingAndGlyphs">83.7W</text>
<text x="763.30" y="840.4" text-anchor="middle" textLength="43.6" lengthAdjust="spacingAndGlyphs">83.4W</text>
<text x="821.13" y="840.4" text-anchor="middle" textLength="43.6" lengthAdjust="spacingAndGlyphs">83.1W</text>
<text x="878.95" y="840.4" text-anchor="middle" textLength="43.6" lengthAdjust="spacingAndGlyphs">82.8W</text>
<text x="252.5" y="130.55" text-anchor="end" textLength="42.2" lengthAdjust="spacingAndGlyphs">11.1N</text>
<text x="252.5" y="197.92" text-anchor="end" textLength="42.2" lengthAdjust="spacingAndGlyphs">10.8N</text>
<text x="252.5" y="265.28" text-anchor="end" textLength="42.2" lengthAdjust="spacingAndGlyphs">10.5N</text>
<text x="252.5" y="332.65" text-anchor="end" textLength="42.2" lengthAdjust="spacingAndGlyphs">10.2N</text>
<text x="252.5" y="400.01" text-anchor="end" textLength="33.2" lengthAdjust="spacingAndGlyphs">9.9N</text>
<text x="252.5" y="467.38" text-anchor="end" textLength="33.2" lengthAdjust="spacingAndGlyphs">9.6N</text>
<text x="252.5" y="534.74" text-anchor="end" textLength="33.2" lengthAdjust="spacingAndGlyphs">9.3N</text>
<text x="252.5" y="602.11" text-anchor="end" textLength="18.2" lengthAdjust="spacingAndGlyphs">9N</text>
<text x="252.5" y="669.47" text-anchor="end" textLength="33.2" lengthAdjust="spacingAndGlyphs">8.7N</text>
<text x="252.5" y="736.83" text-anchor="end" textLength="33.2" lengthAdjust="spacingAndGlyphs">8.4N</text>
<text x="252.5" y="804.20" text-anchor="end" textLength="33.2" lengthAdjust="spacingAndGlyphs">8.1N</text>
</g>
<g stroke="#fff" stroke-width="0.5">
<text y="30.5" font-size="30.1px"><tspan x="130.70" textLength="262.30" lengthAdjust="spacing">IMN/SARAPIQUI_5</tspan> <tspan x="409.00" textLength="193.30" lengthAdjust="spacing">Precipitacion</tspan> <tspan x="616.70" textLength="162.10" lengthAdjust="spacing">Acumulada</tspan> <tspan x="796.00" textLength="36.30" lengthAdjust="spacing">en</tspan> <tspan x="849.00">6</tspan> <tspan x="885.50" textLength="83.80" lengthAdjust="spacing">horas</tspan> <tspan x="985.60">(</tspan><tspan x="999.50" textLength="57.00" lengthAdjust="spacingAndGlyphs">mm</tspan><tspan x="1061.20">)</tspan></text>
<text transform="translate(0,62.5) scale(1.12,1)" font-size="31.2px"><tspan x="412.05" textLength="70.09" lengthAdjust="spacing">2026</tspan><tspan x="479.11" textLength="24.11" lengthAdjust="spacingAndGlyphs" dy="-2.7">-</tspan><tspan x="502.68" textLength="34.82" lengthAdjust="spacing" dy="2.7">02</tspan><tspan x="535.62" textLength="24.11" lengthAdjust="spacingAndGlyphs" dy="-2.7">-</tspan><tspan x="558.48" textLength="32.59" lengthAdjust="spacing" dy="2.7">01</tspan> <tspan x="609.82" textLength="49.55" lengthAdjust="spacing">15Z</tspan></text>
</g>
<g font-size="23.2px" stroke="#fff" stroke-width="0.55">
<text transform="translate(327.0,877) scale(1.14,1)" textLength="91.9" lengthAdjust="spacing" style="fill:#111">Instituto</text>
<text transform="translate(444.5,877) scale(1.14,1)" textLength="155.1" lengthAdjust="spacing" style="fill:#111">Meteorologico</text>
<text transform="translate(635.0,877) scale(1.14,1)" textLength="95.9" lengthAdjust="spacing" style="fill:#111">Nacional</text>
<text transform="translate(758.5,877) scale(1.14,1)" textLength="61.8" lengthAdjust="spacing" style="fill:#111">Costa</text>
<text transform="translate(844.5,877) scale(1.14,1)" textLength="46.8" lengthAdjust="spacing" style="fill:#111">Rica</text>
</g>
<g stroke="#000" stroke-width="1.5" stroke-linejoin="round">
<rect x="1057.5" y="725.13" width="22.5" height="42.37" fill="#66ffff"/>
<rect x="1057.5" y="682.77" width="22.5" height="42.37" fill="#3399ff"/>
<rect x="1057.5" y="640.40" width="22.5" height="42.37" fill="#0000ff"/>
<rect x="1057.5" y="598.03" width="22.5" height="42.37" fill="#00ff00"/>
<rect x="1057.5" y="555.67" width="22.5" height="42.37" fill="#00cc00"/>
<rect x="1057.5" y="513.30" width="22.5" height="42.37" fill="#009900"/>
<rect x="1057.5" y="470.93" width="22.5" height="42.37" fill="#ffff00"/>
<rect x="1057.5" y="428.57" width="22.5" height="42.37" fill="#ffcc00"/>
<rect x="1057.5" y="386.20" width="22.5" height="42.37" fill="#ff6600"/>
<rect x="1057.5" y="343.83" width="22.5" height="42.37" fill="#ff0000"/>
<rect x="1057.5" y="301.47" width="22.5" height="42.37" fill="#cc3300"/>
<rect x="1057.5" y="259.10" width="22.5" height="42.37" fill="#990000"/>
<rect x="1057.5" y="216.73" width="22.5" height="42.37" fill="#ff00ff"/>
<rect x="1057.5" y="174.37" width="22.5" height="42.37" fill="#9933cc"/>
<rect x="1057.5" y="132.00" width="22.5" height="42.37" fill="#f2f2f2"/>
<polygon points="1057.5,132 1080,132 1068.75,90.4" fill="#aaaaaa"/>
<polygon points="1057.5,767.5 1080,767.5 1068.75,809.4" fill="#ffffff"/>
</g>
<g font-size="19.4px">
<text transform="translate(1085.6,774.50) scale(1.1,1)" textLength="29.1" lengthAdjust="spacing">3.5</text>
<text transform="translate(1085.6,732.13) scale(1.1,1)">7</text>
<text transform="translate(1085.6,689.77) scale(1.1,1)" textLength="40.9" lengthAdjust="spacing">12.5</text>
<text transform="translate(1085.6,647.40) scale(1.1,1)" textLength="22.7" lengthAdjust="spacing">15</text>
<text transform="translate(1085.6,605.03) scale(1.1,1)" textLength="22.7" lengthAdjust="spacing">20</text>
<text transform="translate(1085.6,562.67) scale(1.1,1)" textLength="22.7" lengthAdjust="spacing">25</text>
<text transform="translate(1085.6,520.30) scale(1.1,1)" textLength="22.7" lengthAdjust="spacing">30</text>
<text transform="translate(1085.6,477.93) scale(1.1,1)" textLength="22.7" lengthAdjust="spacing">40</text>
<text transform="translate(1085.6,435.57) scale(1.1,1)" textLength="22.7" lengthAdjust="spacing">50</text>
<text transform="translate(1085.6,393.20) scale(1.1,1)" textLength="22.7" lengthAdjust="spacing">60</text>
<text transform="translate(1085.6,350.83) scale(1.1,1)" textLength="22.7" lengthAdjust="spacing">75</text>
<text transform="translate(1085.6,308.47) scale(1.1,1)" textLength="22.7" lengthAdjust="spacing">90</text>
<text transform="translate(1085.6,266.10) scale(1.1,1)" textLength="34.8" lengthAdjust="spacing">100</text>
<text transform="translate(1085.6,223.73) scale(1.1,1)" textLength="34.8" lengthAdjust="spacing">120</text>
<text transform="translate(1085.6,181.37) scale(1.1,1)" textLength="34.8" lengthAdjust="spacing">150</text>
<text transform="translate(1085.6,139.00) scale(1.1,1)" textLength="34.8" lengthAdjust="spacing">200</text>
</g>
</svg></body></html>
